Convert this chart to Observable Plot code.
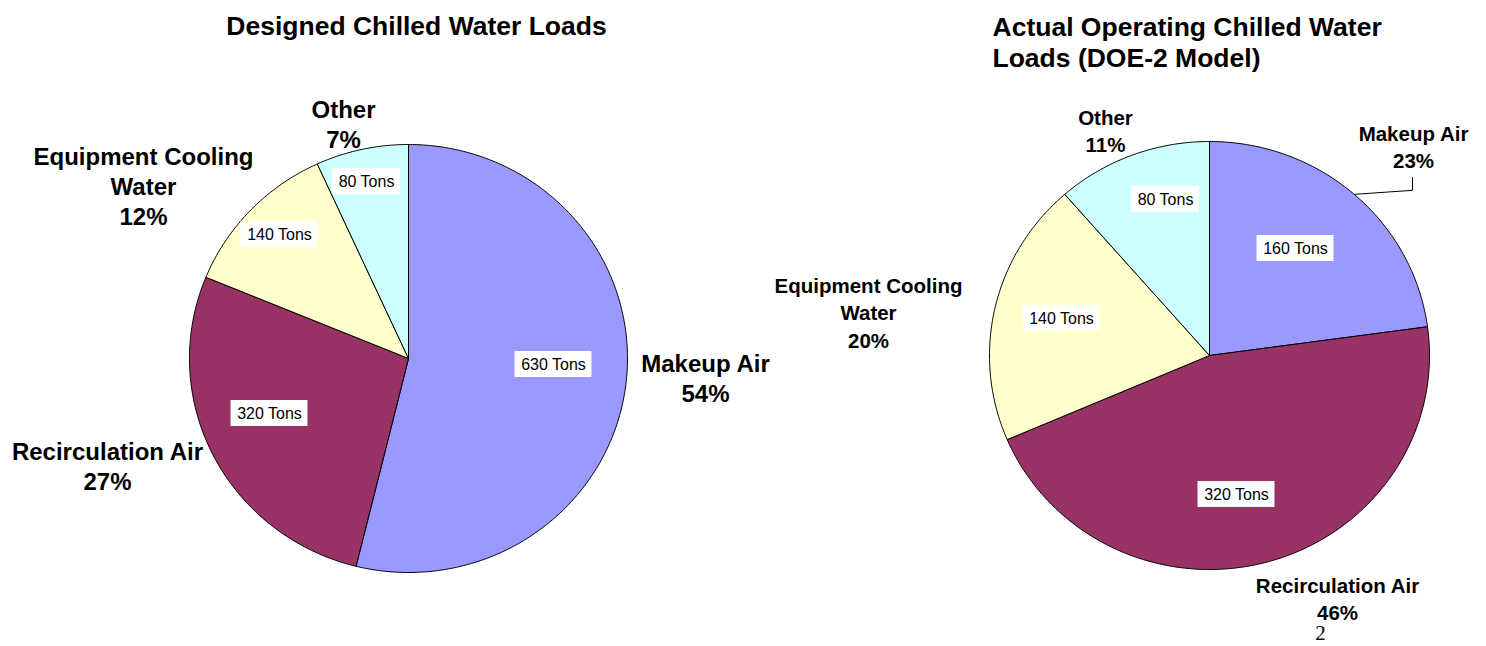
<!DOCTYPE html>
<html><head><meta charset="utf-8">
<script src="https://cdn.jsdelivr.net/npm/d3@7"></script>
<script src="https://cdn.jsdelivr.net/npm/@observablehq/plot@0.6"></script>
<style>body{margin:0;background:#fff}</style>
</head><body><div id="chart"></div>
<script>
// ---- data ----
const categories = ["Makeup Air", "Recirculation Air", "Equipment Cooling Water", "Other"];
const categoryLabels = ["Makeup Air", "Recirculation Air", "Equipment Cooling\nWater", "Other"];
const designedTons = [630, 320, 140, 80];
const designedPct = [54, 27, 12, 7];
const actualTons = [160, 320, 140, 80];
const actualPct = [23, 46, 20, 11];
const titles = ["Designed Chilled Water Loads", "Actual Operating Chilled Water\nLoads (DOE-2 Model)"];
const colors = ["#9999FF", "#993366", "#FFFFCC", "#CCFFFF"];
const pageNumber = "2";

// ---- layout ----
const W = 1486, H = 646;
const FONT = "Liberation Sans, Arial, Helvetica, sans-serif";
const pies = [
  {id: "designed", tons: designedTons, pct: designedPct, cx: 408, cy: 358, rx: 219, ry: 214,
   labelPos: [[705, 377], [107, 465], [143, 185], [343, 123]],
   valuePos: [[553, 364], [269, 413], [279, 234], [366, 181]]},
  {id: "actual", tons: actualTons, pct: actualPct, cx: 1209, cy: 355, rx: 220, ry: 214,
   labelPos: [[1413, 145], [1337, 597], [868, 311], [1105, 129]],
   valuePos: [[1295, 248], [1236, 494], [1061, 318], [1165, 199]]}
];

// ---- build slices ----
const slicePts = [];
const catLabelRows = [];
const valueRows = [];
const leader = [];
const measure = document.createElement("canvas").getContext("2d");
measure.font = `16px ${FONT}`;
pies.forEach(p => {
  const arcs = d3.pie().sort(null).value(d => d)(p.tons);
  arcs.forEach((a, i) => {
    const key = p.id + i;
    const pt = ang => ({key, cat: categories[i], x: p.cx + p.rx * Math.sin(ang), y: p.cy - p.ry * Math.cos(ang)});
    slicePts.push({key, cat: categories[i], x: p.cx, y: p.cy});
    const n = Math.max(2, Math.ceil((a.endAngle - a.startAngle) / (Math.PI / 360)));
    for (let k = 0; k <= n; k++) slicePts.push(pt(a.startAngle + (a.endAngle - a.startAngle) * k / n));
    slicePts.push({key, cat: categories[i], x: p.cx, y: p.cy});
    catLabelRows.push({pie: p.id, text: `${categoryLabels[i]}\n${p.pct[i]}%`, x: p.labelPos[i][0], y: p.labelPos[i][1]});
    const t = `${p.tons[i]} Tons`;
    const w = measure.measureText(t).width + 12;
    valueRows.push({text: t, x: p.valuePos[i][0], y: p.valuePos[i][1], w});
    if (p.id === "actual" && i === 0) {
      const mid = (a.startAngle + a.endAngle) / 2;
      const sx = p.cx + p.rx * Math.sin(mid), sy = p.cy - p.ry * Math.cos(mid);
      const lx = p.labelPos[i][0] - 1, ly = p.labelPos[i][1] + 32;
      leader.push({x: sx, y: sy}, {x: lx, y: sy - 4}, {x: lx, y: ly});
    }
  });
});

const leftLabels = catLabelRows.filter(d => d.pie === "designed");
const rightLabels = catLabelRows.filter(d => d.pie === "actual");

const chart = Plot.plot({
  width: W, height: H,
  margin: 0,
  x: {domain: [0, W], range: [0, W], axis: null},
  y: {domain: [0, H], range: [0, H], axis: null},
  color: {domain: categories, range: colors, legend: false},
  style: {fontFamily: FONT, background: "#fff"},
  marks: [
    Plot.line(slicePts, {x: "x", y: "y", z: "key", fill: "cat", stroke: "#000", strokeWidth: 1, curve: "linear", strokeLinejoin: "round"}),
    Plot.line(leader, {x: "x", y: "y", stroke: "#000", strokeWidth: 1}),
    Plot.rect(valueRows, {x1: d => d.x - d.w / 2, x2: d => d.x + d.w / 2, y1: d => d.y - 13, y2: d => d.y + 13, fill: "#fff"}),
    Plot.text(valueRows, {x: "x", y: "y", text: "text", fontSize: 16, fill: "#000"}),
    Plot.text(leftLabels, {x: "x", y: "y", text: "text", fontSize: 24, lineHeight: 1.25, fontWeight: "bold", fill: "#000", lineAnchor: "middle"}),
    Plot.text(rightLabels, {x: "x", y: "y", text: "text", fontSize: 20.5, lineHeight: 1.34, fontWeight: "bold", fill: "#000", lineAnchor: "middle"}),
    Plot.text([titles[0]], {x: 416, y: 26, text: d => d, fontSize: 26.5, fontWeight: "bold", fill: "#000"}),
    Plot.text([titles[1]], {x: 992, y: 41.5, text: d => d, fontSize: 26.5, lineHeight: 1.17, fontWeight: "bold", fill: "#000", textAnchor: "start", lineAnchor: "middle"}),
    Plot.text([pageNumber], {x: 1320, y: 633, text: d => d, fontSize: 21, fontFamily: "Liberation Serif, Times New Roman, serif", fill: "#000"})
  ]
});
document.getElementById("chart").appendChild(chart);
</script>
</body></html>
